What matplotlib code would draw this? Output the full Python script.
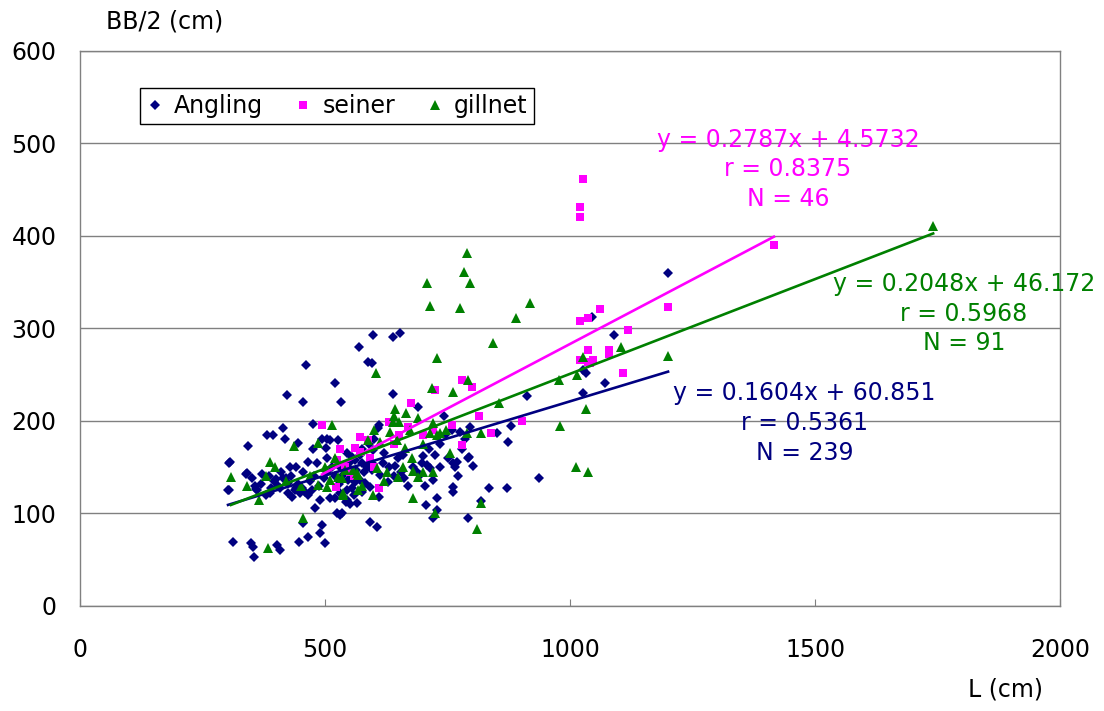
import numpy as np  # Import numpy untuk array
import matplotlib  # Backend tanpa layar
matplotlib.use("Agg")
import matplotlib.pyplot as plt  # Import matplotlib untuk plotting

# Data Angling (L, BB/2)
angling_L = [520, 422, 455, 532, 476, 381, 394, 415, 418, 445, 343, 475, 494, 504, 510, 502, 527,
             306, 339, 371, 386, 429, 441, 455, 465, 484, 504, 400, 414, 357, 302, 361, 388, 408,
             424, 439, 449, 459, 465, 473, 480, 490, 510, 520, 531, 545, 543, 494, 490, 500, 465,
             447, 524, 535, 312, 349, 353, 355, 402, 408, 455,
             461, 569, 588, 596, 598, 639, 653, 639,
             690, 610, 608, 743, 545, 555, 561, 571, 598, 531, 540, 550, 563, 575, 596, 596, 618,
             649, 659, 643, 698, 708, 714, 724, 735, 751, 761, 765, 769, 771, 688, 694, 704, 720,
             761, 761, 792, 547, 561, 571, 582, 592, 612, 629, 545, 551, 565, 531, 610, 706, 729,
             729, 720, 592, 606, 792,
             912, 1027, 1033, 879, 796, 874, 794, 802, 937, 835, 871, 818, 851, 1045, 1090, 1071,
             1200, 1027,
             430, 445, 452, 470, 478, 488, 498, 505, 515, 520, 528, 535, 540, 548, 553, 556, 560,
             575, 580, 585, 575, 590, 600, 620, 630, 640, 655, 662, 670, 680, 700, 712, 735, 745,
             760, 775, 785, 780,
             305, 305, 340, 350, 360, 370, 380, 390, 395, 405, 410, 420, 425, 432, 440]
angling_BB = [241, 228, 220, 220, 197, 185, 185, 192, 180, 176, 173, 170, 181, 181, 179, 171, 179,
              156, 143, 143, 141, 150, 150, 145, 156, 155, 160, 137, 138, 130, 125, 125, 122, 128,
              133, 125, 122, 123, 120, 125, 106, 115, 117, 117, 122, 125, 112, 88, 79, 68, 75,
              69, 100, 100, 69, 68, 64, 53, 66, 61, 90,
              260, 280, 264, 263, 293, 291, 295, 229,
              215, 196, 192, 205, 165, 161, 158, 163, 169, 150, 152, 148, 147, 155, 155, 147, 155,
              160, 163, 151, 155, 152, 149, 163, 150, 160, 155, 150, 156, 141, 145, 142, 130, 136,
              129, 123, 160, 136, 134, 136, 133, 129, 142, 134, 115, 110, 111, 98, 118, 109, 117,
              104, 95, 91, 85, 95,
              227, 230, 252, 195, 194, 177, 161, 151, 138, 128, 128, 113, 187, 312, 293, 241,
              360, 255,
              140, 132, 128, 135, 140, 130, 138, 145, 150, 140, 132, 140, 147, 155, 142, 128, 120,
              123, 145, 150, 170, 175, 180, 165, 150, 140, 145, 138, 130, 150, 162, 170, 175, 185,
              190, 188, 180, 170,
              125, 155, 144, 138, 127, 132, 120, 128, 135, 130, 145, 138, 122, 118, 128]

# Data seiner
seiner_L = [494, 524, 522, 676, 724, 631, 669, 571, 588, 561, 571, 759, 780, 610, 592, 780, 800,
            814, 902, 839, 1020, 1037, 1020, 1037, 1037, 1061, 1200, 1118, 1080, 1080, 1108, 1047,
            1041, 1026, 1020, 1020, 1416, 540, 550, 560, 530, 600, 640, 700, 720, 650]
seiner_BB = [196, 158, 129, 219, 233, 199, 194, 183, 179, 171, 166, 196, 174, 128, 160, 244, 237,
             205, 200, 187, 308, 311, 266, 277, 264, 321, 323, 298, 277, 272, 252, 266,
             263, 462, 431, 421, 390, 150, 145, 140, 170, 150, 175, 185, 190, 185]

# Data gillnet
gillnet_L = [514, 437, 486, 388, 398, 308, 365, 383, 455, 486, 504, 510, 527, 535, 537,
             718, 761, 643, 665, 690, 639, 651, 673, 633, 720, 714, 729, 735, 747, 588, 612, 647,
             663, 678, 541, 557, 565, 567, 606, 627, 649, 680, 690, 700, 720, 567, 537, 598, 680,
             724,
             776, 918, 890, 843, 792, 1026, 978, 1014, 855, 980, 818, 790, 1033, 1012, 1037, 818,
             810,
             790, 784, 796, 708, 714, 729, 604,
             1200, 1104, 1741, 470, 450, 420, 500, 520,
             575, 620, 700, 755, 660, 340, 380, 600, 640]
gillnet_BB = [196, 173, 176, 156, 150, 139, 115, 63, 95, 131, 129, 136, 139, 138, 120,
              236, 231, 213, 209, 203, 199, 199, 190, 188, 198, 187, 185, 187, 190, 179, 177, 179,
              171, 160, 147, 147, 144, 142, 149, 145, 139, 146, 139, 145, 145, 125, 122, 120, 117,
              100,
              322, 328, 311, 284, 244, 269, 244, 250, 219, 195, 187, 187, 213, 150, 145, 111,
              83,
              382, 361, 349, 349, 324, 268, 252,
              270, 280, 411, 140, 130, 135, 150, 160,
              130, 135, 175, 165, 150, 130, 140, 190, 205]

# Persamaan regresi (slope, intercept) dan teks
fit_angling = (0.1604, 60.851)
fit_seiner = (0.2787, 4.5732)
fit_gillnet = (0.2048, 46.172)
label_angling = "y = 0.1604x + 60.851\nr = 0.5361\nN = 239"
label_seiner = "y = 0.2787x + 4.5732\nr = 0.8375\nN = 46"
label_gillnet = "y = 0.2048x + 46.172\nr = 0.5968\nN = 91"

navy = "#000080"
pink = "#FF00FF"
green = "#008000"

plt.rcParams['font.family'] = ['DejaVu Sans']
fig = plt.figure(figsize=(11.04, 7.11), dpi=100)
ax = fig.add_axes([0.0725, 0.1477, 0.8877, 0.7806])

# Titik-titik scatter
ax.plot(angling_L, angling_BB, 'D', color=navy, markersize=5.5, markeredgewidth=0, label="Angling")
ax.plot(seiner_L, seiner_BB, 's', color=pink, markersize=6, markeredgewidth=0, label="seiner")
ax.plot(gillnet_L, gillnet_BB, '^', color=green, markersize=7, markeredgewidth=0, label="gillnet")

# Garis regresi dari min sampai max tiap seri
for xs, fit, c in [(angling_L, fit_angling, navy), (seiner_L, fit_seiner, pink),
                   (gillnet_L, fit_gillnet, green)]:
    xx = np.array([min(xs), max(xs)])
    ax.plot(xx, fit[0] * xx + fit[1], color=c, linewidth=1.9)

# Teks persamaan
ax.text(1445, 472, label_seiner, color=pink, fontsize=17, ha='center', va='center', linespacing=1.3)
ax.text(1804, 316, label_gillnet, color=green, fontsize=17, ha='center', va='center', linespacing=1.3)
ax.text(1478, 198, label_angling, color=navy, fontsize=17, ha='center', va='center', linespacing=1.3)

# Sumbu dan grid
ax.set_xlim(0, 2000)
ax.set_ylim(0, 600)
ax.set_xticks([0, 500, 1000, 1500, 2000])
ax.set_yticks([0, 100, 200, 300, 400, 500, 600])
ax.tick_params(axis='both', labelsize=17, direction='in', length=5, color='#808080')
ax.tick_params(axis='x', pad=23)
ax.tick_params(axis='y', pad=17, length=0)
ax.yaxis.grid(True, color='#808080', linewidth=1)
ax.set_axisbelow(True)
for s in ax.spines.values():
    s.set_color('#808080')
    s.set_linewidth(1)

# Legenda
leg = ax.legend(loc='upper left', bbox_to_anchor=(0.061, 0.933), borderaxespad=0, ncol=3,
                fontsize=17, handlelength=0.8, handletextpad=0.4, columnspacing=1.3,
                borderpad=0.25, fancybox=False, edgecolor='black', framealpha=1)
leg.get_frame().set_linewidth(1)

# Label sumbu
fig.text(165 / 1104, 1 - 22 / 711, "BB/2 (cm)", fontsize=17, ha='center', va='center')
fig.text(1005 / 1104, 1 - 690 / 711, "L (cm)", fontsize=17, ha='center', va='center')

plt.savefig("out.png", dpi=100)
